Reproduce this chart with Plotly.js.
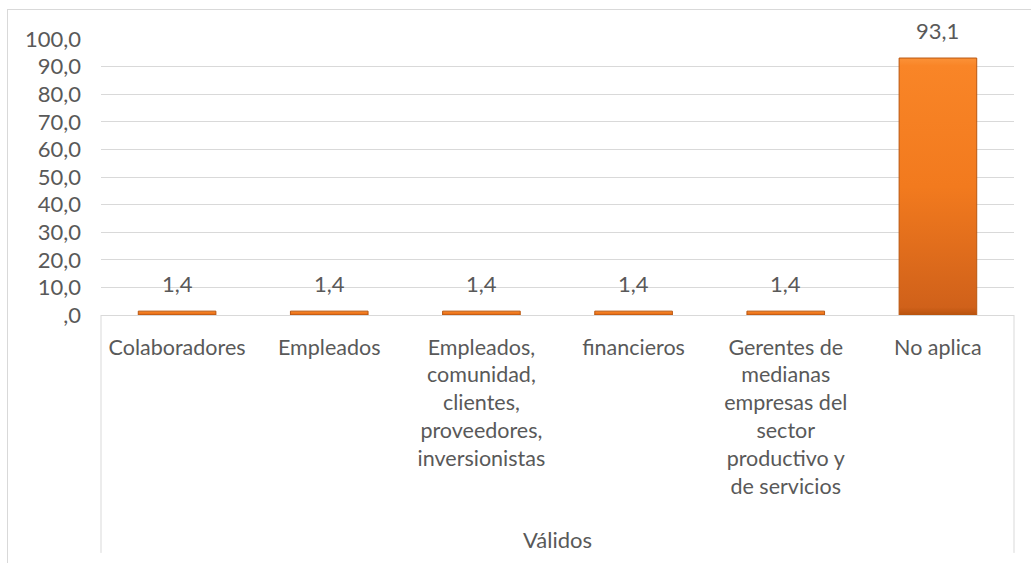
<!DOCTYPE html>
<html>
<head>
<meta charset="utf-8">
<script src="https://cdn.plot.ly/plotly-3.0.1.min.js"></script>
<style>
  html, body { margin:0; padding:0; background:#fff; overflow:hidden; }
  #wrap { position:relative; width:1031px; height:563px; }
  #chart { width:1031px; height:563px; }
  #frame { position:absolute; left:7px; top:9px; width:1100px; height:700px; border:1px solid #D9D9D9; pointer-events:none; box-sizing:border-box; }
</style>
</head>
<body>
<div id="wrap">
  <div id="chart"></div>
  <div id="frame"></div>
</div>
<script>
// ---- data ----
const categories = ["Colaboradores", "Empleados", "Empleados, comunidad, clientes, proveedores, inversionistas", "financieros", "Gerentes de medianas empresas del sector productivo y de servicios", "No aplica"];
const tickLabels = ["Colaboradores", "Empleados", "Empleados,<br>comunidad,<br>clientes,<br>proveedores,<br>inversionistas", "financieros", "Gerentes de<br>medianas<br>empresas del<br>sector<br>productivo y<br>de servicios", "No aplica"];
const values = [1.4, 1.4, 1.4, 1.4, 1.4, 93.1];
const valueLabels = ["1,4", "1,4", "1,4", "1,4", "1,4", "93,1"];
const yTickVals = [0, 10, 20, 30, 40, 50, 60, 70, 80, 90, 100];
const yTickText = [",0", "10,0", "20,0", "30,0", "40,0", "50,0", "60,0", "70,0", "80,0", "90,0", "100,0"];
const groupLabel = "Válidos";

const FONT = "Lato, 'Open Sans', sans-serif";
const TXT = "#595959";
const GRID = "#D9D9D9";

const trace = {
  type: "bar",
  x: categories,
  y: values,
  width: 0.51,
  marker: { color: "#F47B20", line: { color: "#B9560F", width: 1 } },
  hoverinfo: "skip"
};

const annotations = categories.map((c, i) => ({
  x: c, y: values[i], xref: "x", yref: "y",
  text: valueLabels[i], showarrow: false, yanchor: "bottom", yshift: 12,
  font: { family: FONT, size: 22, color: TXT }
}));
annotations.push({
  x: 0.5, y: -0.815, xref: "paper", yref: "paper",
  text: groupLabel, showarrow: false, yanchor: "middle",
  font: { family: FONT, size: 22, color: TXT }
});

const layout = {
  width: 1031, height: 563,
  margin: { l: 101, r: 17, t: 39, b: 248 },
  paper_bgcolor: "#fff", plot_bgcolor: "#fff",
  showlegend: false,
  bargap: 0.49,
  xaxis: {
    type: "category",
    tickvals: categories, ticktext: tickLabels,
    tickfont: { family: FONT, size: 21.5, color: TXT },
    showgrid: false, zeroline: false, showline: false,
    ticks: "", ticklabelstandoff: 17, tickangle: 0,
    fixedrange: true
  },
  yaxis: {
    range: [0, 100],
    tickvals: yTickVals, ticktext: yTickText,
    tickfont: { family: FONT, size: 22, color: TXT },
    showgrid: true, gridcolor: GRID, gridwidth: 1,
    zeroline: true, zerolinecolor: GRID, zerolinewidth: 1,
    showline: false, ticks: "", ticklabelstandoff: 19,
    fixedrange: true
  },
  shapes: [
    { type: "line", xref: "paper", yref: "paper", x0: 0, x1: 0, y0: 0, y1: -0.862, line: { color: GRID, width: 1 } },
    { type: "line", xref: "paper", yref: "paper", x0: 1, x1: 1, y0: 0, y1: -0.862, line: { color: GRID, width: 1 } }
  ],
  annotations: annotations
};

Plotly.newPlot("chart", [trace], layout, { displayModeBar: false, staticPlot: true }).then(gd => {
  const svg = gd.querySelector("svg.main-svg");
  const ns = "http://www.w3.org/2000/svg";
  let defs = svg.querySelector("defs");
  if (!defs) { defs = document.createElementNS(ns, "defs"); svg.insertBefore(defs, svg.firstChild); }
  const g = document.createElementNS(ns, "linearGradient");
  g.setAttribute("id", "barGrad");
  g.setAttribute("x1", "0"); g.setAttribute("y1", "0"); g.setAttribute("x2", "0"); g.setAttribute("y2", "1");
  [["0", "#FB9238"], ["0.03", "#F98527"], ["0.5", "#F27A1E"], ["0.97", "#D0611A"], ["1", "#B8520E"]].forEach(([o, c]) => {
    const s = document.createElementNS(ns, "stop");
    s.setAttribute("offset", o); s.setAttribute("stop-color", c);
    g.appendChild(s);
  });
  defs.appendChild(g);
  gd.querySelectorAll(".bars .point path").forEach(p => { p.style.fill = "url(#barGrad)"; });
});
</script>
</body>
</html>
